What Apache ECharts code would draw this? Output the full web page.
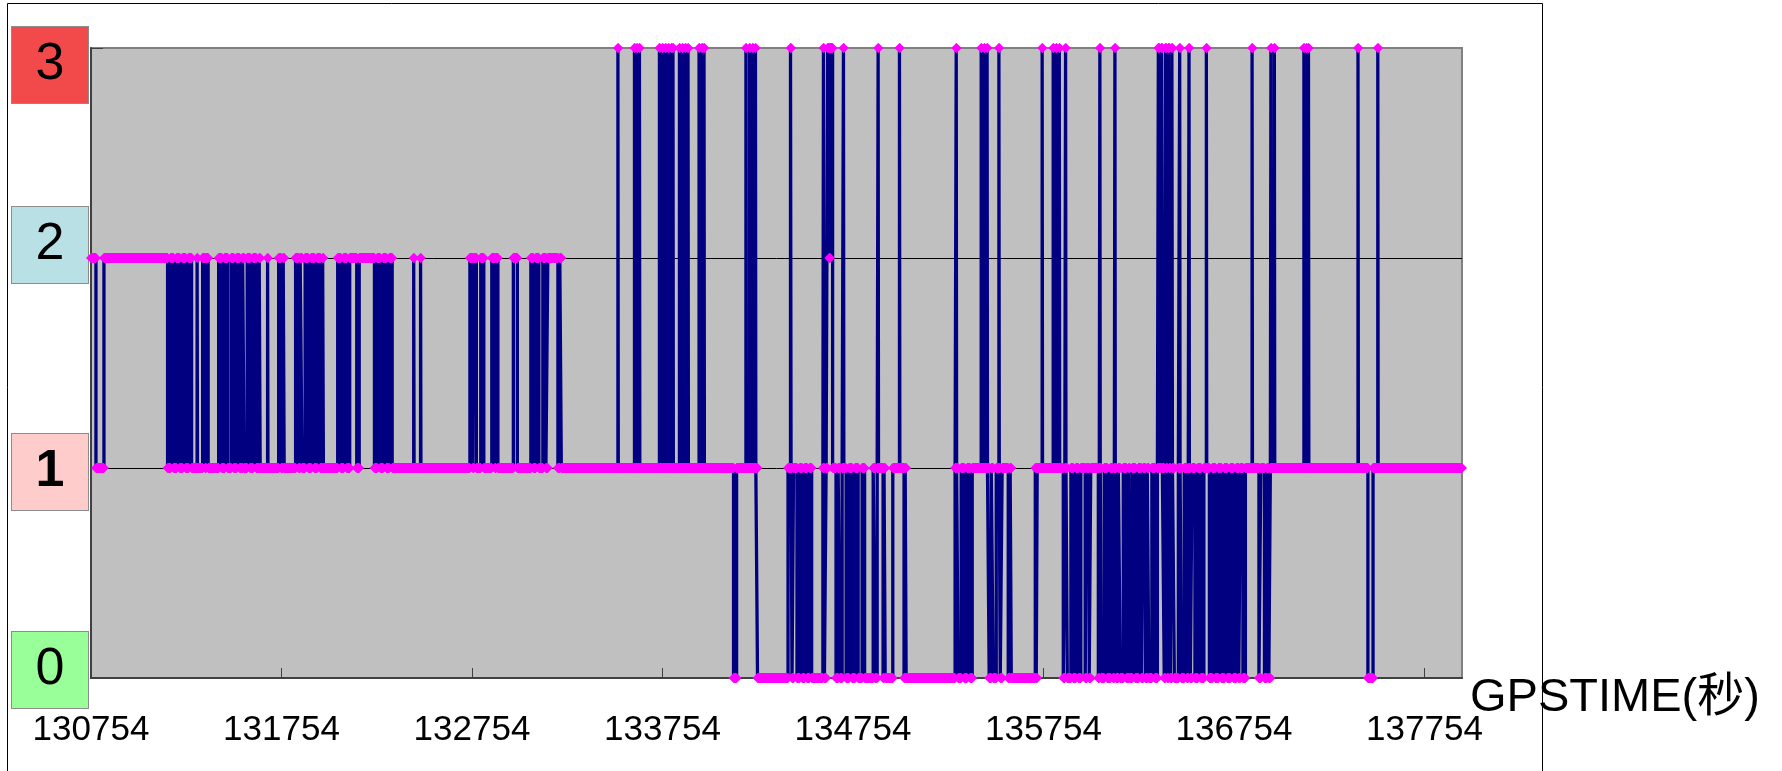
<!DOCTYPE html>
<html>
<head>
<meta charset="utf-8">
<script src="https://cdn.jsdelivr.net/npm/echarts@6/dist/echarts.min.js"></script>
<style>
html, body { margin: 0; padding: 0; background: #fff; }
#main { width: 1782px; height: 771px; }
</style>
</head>
<body>
<div id="main"></div>
<script>
var timeStart = 130754;
var timeEnd = 137951;
var tickStep = 1000;
var levelNames = ['0', '1', '2', '3'];
var levelBoxColor = ['#99FF99', '#FFCCCC', '#B9E0E4', '#F24A4A'];

// [GPSTIME, state]: the state starts at that second and holds until the next entry
var changesA = [
    [130754, 2], [130780, 1], [130822, 2], [131156, 1], [131172, 2], [131187, 1], [131203, 2], [131219, 1],
    [131235, 2], [131250, 1], [131266, 2], [131282, 1], [131311, 2], [131313, 1], [131340, 2], [131353, 1],
    [131358, 2], [131369, 1], [131424, 2], [131440, 1], [131455, 2], [131471, 1], [131490, 2], [131503, 1],
    [131518, 2], [131534, 1], [131550, 2], [131558, 1], [131574, 2], [131589, 1], [131605, 2], [131621, 1],
    [131637, 2], [131642, 1], [131681, 2], [131683, 1], [131739, 2], [131752, 1], [131763, 2], [131768, 1],
    [131828, 2], [131844, 1], [131852, 2], [131862, 1], [131878, 2], [131894, 1], [131910, 2], [131926, 1],
    [131941, 2], [131957, 1], [131970, 2], [131974, 1], [132049, 2], [132065, 1], [132080, 2], [132096, 1],
    [132112, 2], [132149, 1], [132162, 2], [132242, 1], [132257, 2], [132272, 1], [132288, 2], [132304, 1],
    [132320, 2], [132335, 1], [132448, 2], [132450, 1], [132484, 2], [132486, 1], [132743, 2], [132758, 1],
    [132764, 2], [132777, 1], [132800, 2], [132816, 1], [132858, 2], [132874, 1], [132879, 2], [132890, 1],
    [132971, 2], [132992, 1], [133063, 2], [133076, 1], [133089, 2], [133105, 1], [133126, 2], [133142, 1],
    [133152, 2], [133205, 1], [133215, 2], [133223, 1]
];
var changesB = [
    [133520, 3], [133522, 1], [133607, 3], [133609, 1], [133620, 3], [133622, 1], [133633, 3], [133635, 1],
    [133738, 3], [133740, 1], [133754, 3], [133756, 1], [133770, 3], [133772, 1], [133785, 3], [133787, 1],
    [133801, 3], [133803, 1], [133809, 3], [133811, 1], [133843, 3], [133845, 1], [133859, 3], [133861, 1],
    [133874, 3], [133876, 1], [133888, 3], [133890, 1], [133946, 3], [133948, 1], [133961, 3], [133963, 1],
    [133972, 3], [133974, 1], [134127, 0], [134143, 1], [134192, 3], [134194, 1], [134211, 3], [134213, 1],
    [134227, 3], [134229, 1], [134242, 3], [134244, 1], [134253, 0], [134413, 1], [134426, 3], [134429, 1],
    [134434, 0], [134442, 1], [134460, 0], [134474, 1], [134487, 0], [134500, 1], [134513, 0], [134526, 1],
    [134537, 0], [134596, 1], [134599, 3], [134601, 1], [134604, 0], [134613, 1], [134621, 3], [134630, 2],
    [134634, 3], [134647, 1], [134665, 0], [134676, 1], [134686, 0], [134697, 1], [134704, 3], [134706, 1],
    [134718, 0], [134733, 1], [134749, 0], [134765, 1], [134781, 0], [134802, 1], [134815, 0], [134860, 1],
    [134870, 0], [134881, 1], [134886, 3], [134888, 1], [134912, 0], [134917, 1], [134923, 0], [134963, 1],
    [134998, 3], [135000, 1], [135022, 0], [135028, 1], [135033, 0], [135290, 1], [135296, 3], [135298, 1],
    [135306, 0], [135322, 1], [135338, 0], [135353, 1], [135369, 0], [135380, 1], [135427, 3], [135429, 1],
    [135443, 3], [135445, 1], [135458, 3], [135460, 1], [135469, 0], [135480, 1], [135490, 0], [135506, 1],
    [135520, 3], [135522, 1], [135527, 0], [135537, 1], [135569, 0], [135579, 1], [135585, 0]
];
var changesC = [
    [135711, 1], [135716, 0], [135721, 1], [135747, 3], [135749, 1], [135805, 3], [135807, 1], [135821, 3],
    [135823, 1], [135837, 3], [135839, 1], [135858, 0], [135866, 1], [135870, 3], [135872, 1], [135879, 0],
    [135898, 1], [135910, 0], [135924, 1], [135937, 0], [135950, 1], [135973, 0], [135981, 1], [135994, 0],
    [136002, 1], [136042, 0], [136047, 1], [136050, 3], [136052, 1], [136057, 0], [136073, 1], [136089, 0],
    [136105, 1], [136119, 0], [136126, 1], [136129, 3], [136131, 1], [136136, 0], [136147, 1], [136157, 0],
    [136173, 1], [136189, 0], [136202, 1], [136207, 0], [136220, 1], [136236, 0], [136252, 1], [136268, 0],
    [136278, 1], [136289, 0], [136299, 1], [136307, 0], [136323, 1], [136339, 0], [136352, 1], [136357, 3],
    [136362, 1], [136373, 3], [136378, 1], [136388, 0], [136394, 3], [136399, 1], [136404, 0], [136410, 3],
    [136415, 1], [136420, 0], [136428, 3], [136431, 1], [136441, 0], [136462, 1], [136469, 3], [136471, 1],
    [136478, 0], [136493, 1], [136507, 0], [136514, 1], [136518, 3], [136520, 1], [136525, 0], [136534, 1],
    [136549, 0], [136564, 1], [136580, 0], [136596, 1], [136609, 3], [136611, 1], [136625, 0], [136641, 1],
    [136656, 0], [136672, 1], [136688, 0], [136704, 1], [136719, 0], [136735, 1], [136751, 0], [136767, 1],
    [136779, 0], [136788, 1], [136801, 0], [136814, 1], [136849, 3], [136851, 1], [136885, 0], [136895, 1],
    [136914, 0], [136927, 1], [136937, 0], [136945, 1], [136948, 3], [136950, 1], [136966, 3], [136968, 1],
    [137121, 3], [137123, 1], [137134, 3], [137136, 1], [137145, 3], [137147, 1], [137405, 3], [137407, 1],
    [137457, 0], [137484, 1], [137509, 3], [137511, 1], [137951, 1]
];

var changes = changesA.concat(changesB, changesC);

// pink bands: [from, to, state] for every stretch between two changes
var runs = [];
for (var i = 0; i < changes.length - 1; i++) {
    runs.push([changes[i][0], changes[i + 1][0], changes[i][1]]);
}

var fontMain = "'Liberation Sans', Arial, 'Noto Sans CJK SC', sans-serif";

// coloured label boxes, nudged up/down like the original
var boxShift = { '0': -8, '1': 4, '2': -13, '3': 17 };
var rich = {};
levelNames.forEach(function (n, i) {
    rich['b' + n] = {
        width: 76, height: 76, lineHeight: 76, align: 'center', verticalAlign: 'middle',
        backgroundColor: levelBoxColor[i], borderColor: '#8c8c8c', borderWidth: 1,
        fontSize: 52, fontFamily: fontMain, color: '#000', fontWeight: n === '1' ? 'bold' : 'normal'
    };
    var s = Math.abs(boxShift[n]) * 2;
    rich['s' + n] = { height: s, lineHeight: s, fontSize: 1 };
});

var chart = echarts.init(document.getElementById('main'));

var option = {
    backgroundColor: '#ffffff',
    animation: false,
    graphic: [{
        type: 'rect', silent: true,
        shape: { x: 7.5, y: 3.5, width: 1535, height: 800 },
        style: { fill: 'none', stroke: '#000', lineWidth: 1 }
    }],
    grid: {
        left: 91, right: 320, top: 48, bottom: 93,
        outerBoundsMode: 'none',
        containLabel: false,
        show: true, backgroundColor: '#C0C0C0', borderColor: '#808080', borderWidth: 2
    },
    xAxis: {
        type: 'value',
        min: timeStart, max: timeEnd, interval: tickStep,
        name: 'GPSTIME(秒)',
        nameLocation: 'end',
        nameGap: 8,
        nameMoveOverlap: false,
        nameTextStyle: { fontSize: 47, fontFamily: fontMain, color: '#000', align: 'left', verticalAlign: 'top', lineHeight: 40 },
        axisLine: { lineStyle: { color: '#404040', width: 2 } },
        axisTick: { inside: true, length: 10, lineStyle: { color: '#404040' } },
        splitLine: { show: false },
        axisLabel: {
            fontSize: 35, fontFamily: fontMain, color: '#000', margin: 35, showMaxLabel: false,
            formatter: function (v) { return String(v); }
        }
    },
    yAxis: {
        type: 'value',
        min: 0, max: 3, interval: 1,
        axisLine: { show: true, lineStyle: { color: '#404040', width: 2 } },
        axisTick: { show: true, inside: true, length: 12, lineStyle: { color: '#404040' } },
        splitLine: { show: true, lineStyle: { color: ['#404040', '#000', '#000', '#808080'], width: 1 } },
        axisLabel: {
            margin: 3,
            fontSize: 52,
            formatter: function (v) {
                var n = String(v);
                if (boxShift[n] > 0) return '{s' + n + '| }\n{b' + n + '|' + n + '}';
                return '{b' + n + '|' + n + '}\n{s' + n + '| }';
            },
            rich: rich
        }
    },
    series: [{
        type: 'line',
        step: 'end',
        data: changes,
        showSymbol: false,
        lineStyle: { color: '#000080', width: 3.3 },
        z: 2
    }, {
        type: 'custom',
        data: runs,
        encode: { x: [0, 1], y: 2 },
        renderItem: function (params, api) {
            var a = api.coord([api.value(0), api.value(2)]);
            var b = api.coord([api.value(1), api.value(2)]);
            var r = 5;
            return {
                type: 'polygon',
                shape: { points: [[a[0] - r, a[1]], [a[0], a[1] - r], [b[0], b[1] - r], [b[0] + r, b[1]], [b[0], b[1] + r], [a[0], a[1] + r]] },
                style: { fill: '#FF00FF' }
            };
        },
        z: 3
    }]
};

chart.setOption(option);
</script>
</body>
</html>
